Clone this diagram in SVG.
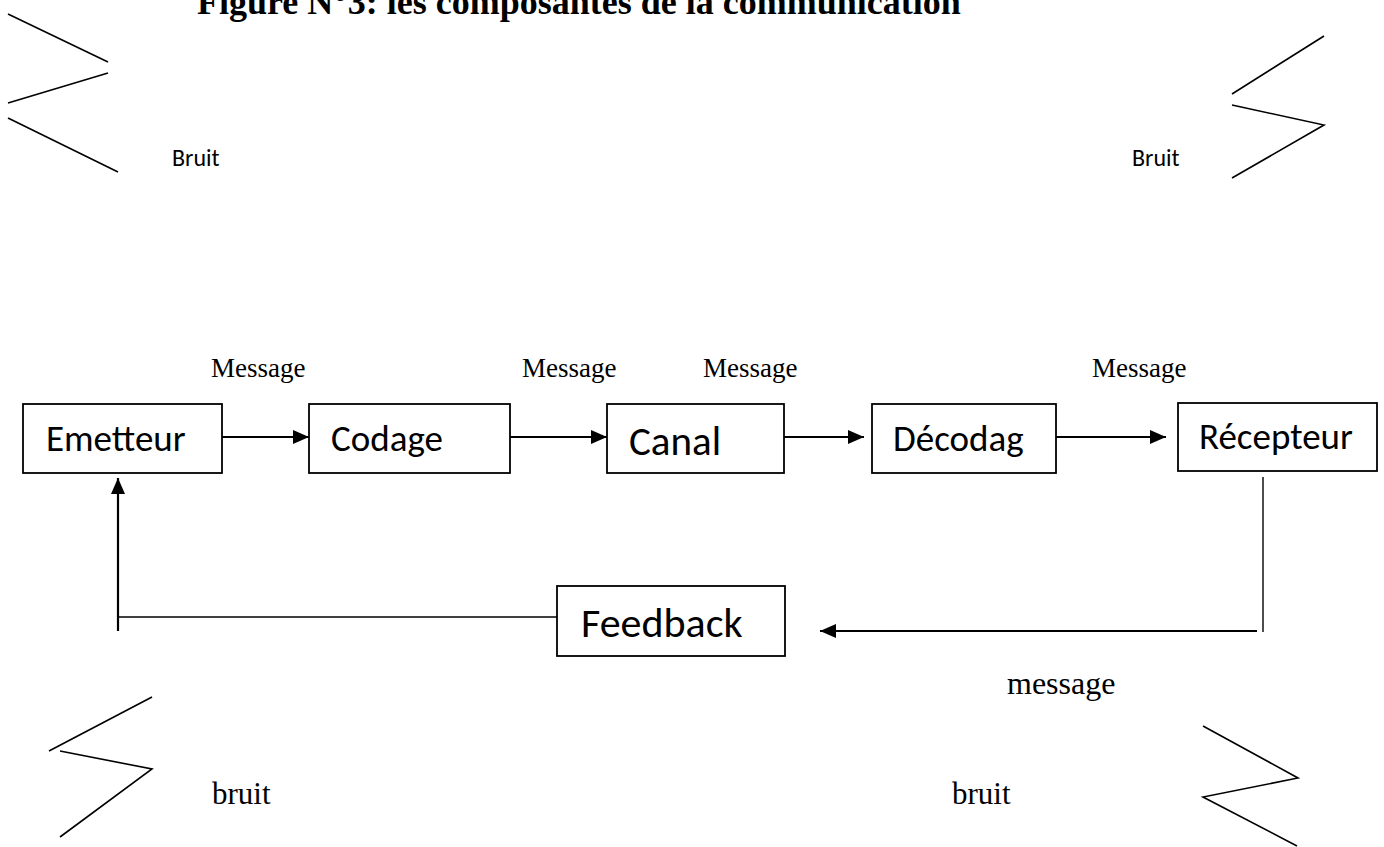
<svg xmlns="http://www.w3.org/2000/svg" width="1384" height="847" viewBox="0 0 1384 847">
  <style>
    .box { fill: #ffffff; stroke: #000000; stroke-width: 1.8; }
    .lbl { font-family: Carlito, Lato, "Liberation Sans", sans-serif; fill: #000000; }
    .serif { font-family: "Liberation Serif", "Times New Roman", serif; fill: #000000; }
    .zig { fill: none; stroke: #000000; stroke-width: 1.6; stroke-linejoin: miter; }
    .flow { fill: none; stroke: #000000; stroke-width: 2.2; }
    .thin { fill: none; stroke: #000000; stroke-width: 1.4; }
  </style>
  <defs>
    <marker id="arrow" viewBox="0 0 16 14" refX="16" refY="7" markerWidth="16" markerHeight="14" markerUnits="userSpaceOnUse" orient="auto">
      <path d="M0,0 L16,7 L0,14 Z" fill="#000000"/>
    </marker>
  </defs>
  <rect width="1384" height="847" fill="#ffffff"/>

  <!-- title, partly above the top edge -->
  <text class="serif" x="197" y="14" font-size="36" font-weight="bold">Figure N°3: les composantes de la communication</text>

  <!-- noise symbols -->
  <g id="noise-top-left">
    <line class="zig" x1="8" y1="14" x2="108" y2="62"/>
    <line class="zig" x1="108" y1="73" x2="8" y2="103"/>
    <line class="zig" x1="8" y1="118" x2="118" y2="172"/>
    <text class="lbl" x="172" y="166" font-size="24">Bruit</text>
  </g>
  <g id="noise-top-right">
    <line class="zig" x1="1324" y1="36" x2="1232" y2="94"/>
    <polyline class="zig" points="1232,105 1324,125 1232,178"/>
    <text class="lbl" x="1132" y="166" font-size="24">Bruit</text>
  </g>
  <g id="noise-bottom-left">
    <line class="zig" x1="152" y1="697" x2="49" y2="751"/>
    <polyline class="zig" points="60,751 152,769 60,837"/>
    <text class="serif" x="212" y="804" font-size="31">bruit</text>
  </g>
  <g id="noise-bottom-right">
    <polyline class="zig" points="1203,726 1298,778 1203,797 1297,846"/>
    <text class="serif" x="952" y="804" font-size="31">bruit</text>
  </g>

  <!-- connectors -->
  <g id="connectors">
    <line class="flow" x1="222" y1="437" x2="309" y2="437" marker-end="url(#arrow)"/>
    <line class="flow" x1="510" y1="437" x2="607" y2="437" marker-end="url(#arrow)"/>
    <line class="flow" x1="784" y1="437" x2="864" y2="437" marker-end="url(#arrow)"/>
    <line class="flow" x1="1056" y1="437" x2="1166" y2="437" marker-end="url(#arrow)"/>
    <!-- return path from the receiver -->
    <line class="thin" x1="1263" y1="477" x2="1263" y2="632"/>
    <line class="flow" x1="1257" y1="631" x2="820" y2="631" marker-end="url(#arrow)"/>
    <!-- feedback back to the sender -->
    <line class="thin" x1="118" y1="617" x2="557" y2="617"/>
    <line class="flow" x1="118" y1="631" x2="118" y2="478" marker-end="url(#arrow)"/>

    <text class="serif" x="211" y="377" font-size="27">Message</text>
    <text class="serif" x="522" y="377" font-size="27">Message</text>
    <text class="serif" x="703" y="377" font-size="27">Message</text>
    <text class="serif" x="1092" y="377" font-size="27">Message</text>
    <text class="serif" x="1007" y="694" font-size="32">message</text>
  </g>

  <!-- nodes -->
  <g id="emetteur">
    <rect class="box" x="23" y="404" width="199" height="69"/>
    <text class="lbl" x="46" y="451" font-size="37">Emetteur</text>
  </g>
  <g id="codage">
    <rect class="box" x="309" y="404" width="201" height="69"/>
    <text class="lbl" x="331" y="451" font-size="37">Codage</text>
  </g>
  <g id="canal">
    <rect class="box" x="607" y="404" width="177" height="69"/>
    <text class="lbl" x="629" y="455" font-size="41">Canal</text>
  </g>
  <g id="decodage">
    <rect class="box" x="872" y="404" width="184" height="69"/>
    <text class="lbl" x="893" y="451" font-size="37">Décodag</text>
  </g>
  <g id="recepteur">
    <rect class="box" x="1178" y="403" width="199" height="68"/>
    <text class="lbl" x="1199" y="449" font-size="37">Récepteur</text>
  </g>
  <g id="feedback">
    <rect class="box" x="557" y="586" width="228" height="70"/>
    <text class="lbl" x="581" y="637" font-size="42">Feedback</text>
  </g>
</svg>
